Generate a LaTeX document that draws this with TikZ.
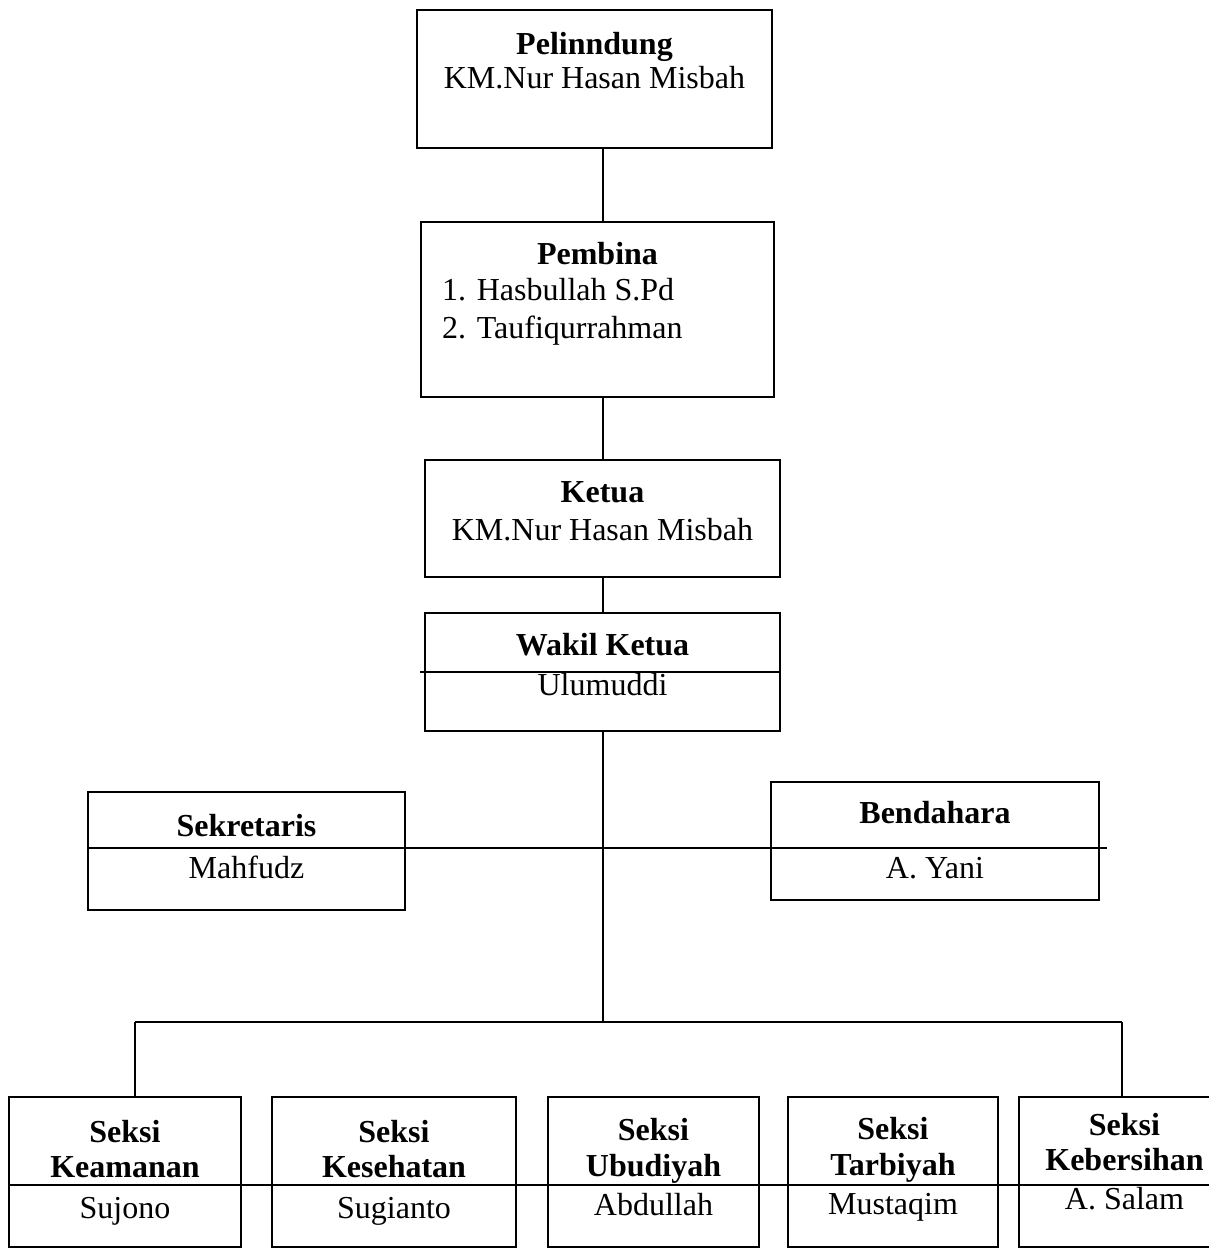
\documentclass[tikz,border=0pt]{standalone}
\usepackage{fontspec}
\setmainfont{Liberation Serif}
\begin{document}
\begin{tikzpicture}[x=1pt,y=-1pt,
  box/.style={draw=black, line width=2pt, rectangle, inner sep=0pt},
  txt/.style={inner sep=0pt, font=\fontsize{32}{38}\selectfont, text=black},
  ttl/.style={txt, font=\fontsize{32}{38}\selectfont\bfseries},
  conn/.style={draw=black, line width=2pt}]
\useasboundingbox (0,0) rectangle (1209,1253);
\clip (0,0) rectangle (1209,1253);
\fill[white] (0,0) rectangle (1209,1253);

% ---- top chain
\node[box, minimum width=355, minimum height=138] (pel) at (594.5,79) {};
\node[ttl, anchor=base] (pelT) at (594.5,54) {Pelinndung};
\node[txt, anchor=base] (pelN) at (594.5,88) {KM.Nur Hasan Misbah};

\node[box, minimum width=353, minimum height=175] (pem) at (597.5,309.5) {};
\node[ttl, anchor=base] (pemT) at (597.5,264) {Pembina};
\node[txt, anchor=base west] (pem1) at (442,300) {1. Hasbullah S.Pd};
\node[txt, anchor=base west] (pem2) at (442,338) {2. Taufiqurrahman};

\node[box, minimum width=355, minimum height=117] (ket) at (602.5,518.5) {};
\node[ttl, anchor=base] (ketT) at (602.5,502) {Ketua};
\node[txt, anchor=base] (ketN) at (602.5,540) {KM.Nur Hasan Misbah};

\node[box, minimum width=355, minimum height=118] (wak) at (602.5,672) {};
\node[ttl, anchor=base] (wakT) at (602.5,655) {Wakil Ketua};
\node[txt, anchor=base] (wakN) at (602.5,695) {Ulumuddi};
\draw[conn] ([xshift=-4pt]wak.west) -- (wak.east);

\draw[conn] (603,0 |- pel.south) -- (603,0 |- pem.north);
\draw[conn] (603,0 |- pem.south) -- (603,0 |- ket.north);
\draw[conn] (603,0 |- ket.south) -- (603,0 |- wak.north);

% ---- second level
\node[box, minimum width=317, minimum height=118] (sek) at (246.5,851) {};
\node[ttl, anchor=base] (sekT) at (246.5,836) {Sekretaris};
\node[txt, anchor=base] (sekN) at (246.5,878) {Mahfudz};

\node[box, minimum width=328, minimum height=118] (ben) at (935,841) {};
\node[ttl, anchor=base] (benT) at (935,823) {Bendahara};
\node[txt, anchor=base] (benN) at (935,878) {A. Yani};

\coordinate (hl) at (0,848);
\coordinate (hr) at (1107,848);
\draw[conn] (sek.west |- hl) -- (hr);

% ---- bus
\coordinate (bM) at (603,1022);
\coordinate (bL) at (135,1022);
\coordinate (bR) at (1122,1022);
\draw[conn] (603,0 |- wak.south) -- (bM);
\draw[conn] (bL) -- (bR);

% ---- sections
\node[box, minimum width=232, minimum height=150] (kea) at (125,1172) {};
\node[ttl, anchor=base] (keaS) at (125,1142) {Seksi};
\node[ttl, anchor=base] (keaT) at (125,1177) {Keamanan};
\node[txt, anchor=base] (keaN) at (125,1218) {Sujono};

\node[box, minimum width=244, minimum height=150] (kes) at (394,1172) {};
\node[ttl, anchor=base] (kesS) at (394,1142) {Seksi};
\node[ttl, anchor=base] (kesT) at (394,1177) {Kesehatan};
\node[txt, anchor=base] (kesN) at (394,1218) {Sugianto};

\node[box, minimum width=211, minimum height=150] (ubu) at (653.5,1172) {};
\node[ttl, anchor=base] (ubuS) at (653.5,1140) {Seksi};
\node[ttl, anchor=base] (ubuT) at (653.5,1176) {Ubudiyah};
\node[txt, anchor=base] (ubuN) at (653.5,1215) {Abdullah};

\node[box, minimum width=210, minimum height=150] (tar) at (893,1172) {};
\node[ttl, anchor=base] (tarS) at (893,1139) {Seksi};
\node[ttl, anchor=base] (tarT) at (893,1175) {Tarbiyah};
\node[txt, anchor=base] (tarN) at (893,1214) {Mustaqim};

\node[box, minimum width=211, minimum height=150] (keb) at (1124.5,1172) {};
\node[ttl, anchor=base] (kebS) at (1124.5,1135) {Seksi};
\node[ttl, anchor=base] (kebT) at (1124.5,1170) {Kebersihan};
\node[txt, anchor=base] (kebN) at (1124.5,1209) {A. Salam};

\draw[conn] (bL) -- (bL |- kea.north);
\draw[conn] (bR) -- (bR |- keb.north);

\coordinate (sl) at (0,1185);
\coordinate (sr) at (1209,1185);
\draw[conn] (kea.west |- sl) -- (sr);
\end{tikzpicture}
\end{document}
